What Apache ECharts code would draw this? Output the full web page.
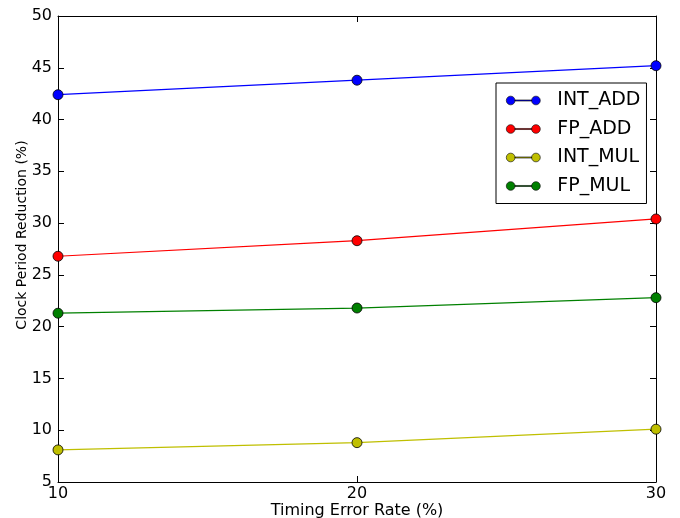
<!DOCTYPE html>
<html>
<head>
<meta charset="utf-8">
<script src="https://cdn.jsdelivr.net/npm/echarts@6/dist/echarts.min.js"></script>
<style>
  html, body { margin: 0; padding: 0; background: #fff; }
  #main { width: 680px; height: 518px; }
</style>
</head>
<body>
<div id="main"></div>
<script>
    var rates = [10, 20, 30];
    var intAdd = [42.4, 43.8, 45.2];
    var fpAdd = [26.8, 28.3, 30.4];
    var intMul = [8.1, 8.8, 10.1];
    var fpMul = [21.3, 21.8, 22.8];

    var font = 'DejaVu Sans';
    var chart = echarts.init(document.getElementById('main'));

    function pairs(vals) {
        return rates.map(function (r, i) {
            return [r, vals[i]];
        });
    }
    function line(name, color, vals) {
        return {
            name: name, type: 'line', data: pairs(vals),
            symbol: 'circle', symbolSize: 10,
            itemStyle: {color: color, borderColor: '#000', borderWidth: 0.8},
            lineStyle: {color: color, width: 1.2},
            z: 3
        };
    }
    // two dots joined by a line, like the matplotlib legend handle
    var handle = 'path://M5,0A5,5,0,1,1,5,10A5,5,0,1,1,5,0ZM10,4.4L29,4.4L29,5.6L10,5.6ZM34,0A5,5,0,1,1,34,10A5,5,0,1,1,34,0Z';

    var tick = {show: true, inside: true, length: 6, lineStyle: {color: '#000'}};
    var axLine = {show: true, lineStyle: {color: '#000', width: 1}};

    chart.setOption({
        animation: false,
        textStyle: {fontFamily: font},
        grid: {left: 58, right: 24, top: 16, bottom: 36, containLabel: false, outerBoundsMode: 'none'},
        legend: {
            orient: 'vertical', left: 496, top: 83,
            padding: [8, 6, 8, 10],
            borderColor: '#000', borderWidth: 1,
            itemWidth: 34, itemHeight: 10, itemGap: 9.5,
            icon: handle,
            itemStyle: {borderColor: '#000', borderWidth: 0.6},
            textStyle: {fontFamily: font, fontSize: 19, color: '#000', padding: [0, 0, 0, 12]},
            data: ['INT_ADD', 'FP_ADD', 'INT_MUL', 'FP_MUL']
        },
        xAxis: [{
            type: 'value', min: 10, max: 30, interval: 10,
            name: 'Timing Error Rate (%)', nameLocation: 'middle', nameGap: 21, nameMoveOverlap: false,
            nameTextStyle: {fontFamily: font, fontSize: 16, color: '#000'},
            axisLine: axLine, axisTick: tick,
            axisLabel: {fontFamily: font, fontSize: 16, color: '#000', margin: 4},
            splitLine: {show: false}
        }, {
            type: 'value', min: 10, max: 30, interval: 10, position: 'top',
            axisLine: axLine, axisTick: tick, axisLabel: {show: false},
            splitLine: {show: false}
        }],
        yAxis: [{
            type: 'value', min: 5, max: 50, interval: 5,
            name: 'Clock Period Reduction (%)', nameLocation: 'middle', nameGap: 29, nameMoveOverlap: false,
            nameTextStyle: {fontFamily: font, fontSize: 14, color: '#000', padding: [0, 0, 0, 28]},
            axisLine: axLine, axisTick: tick,
            axisLabel: {fontFamily: font, fontSize: 16, color: '#000', margin: 6},
            splitLine: {show: false}
        }, {
            type: 'value', min: 5, max: 50, interval: 5, position: 'right',
            axisLine: axLine, axisTick: tick, axisLabel: {show: false},
            splitLine: {show: false}
        }],
        series: [
            line('INT_ADD', '#0000ff', intAdd),
            line('FP_ADD', '#ff0000', fpAdd),
            line('INT_MUL', '#bfbf00', intMul),
            line('FP_MUL', '#008000', fpMul)
        ]
    });
</script>
</body>
</html>
